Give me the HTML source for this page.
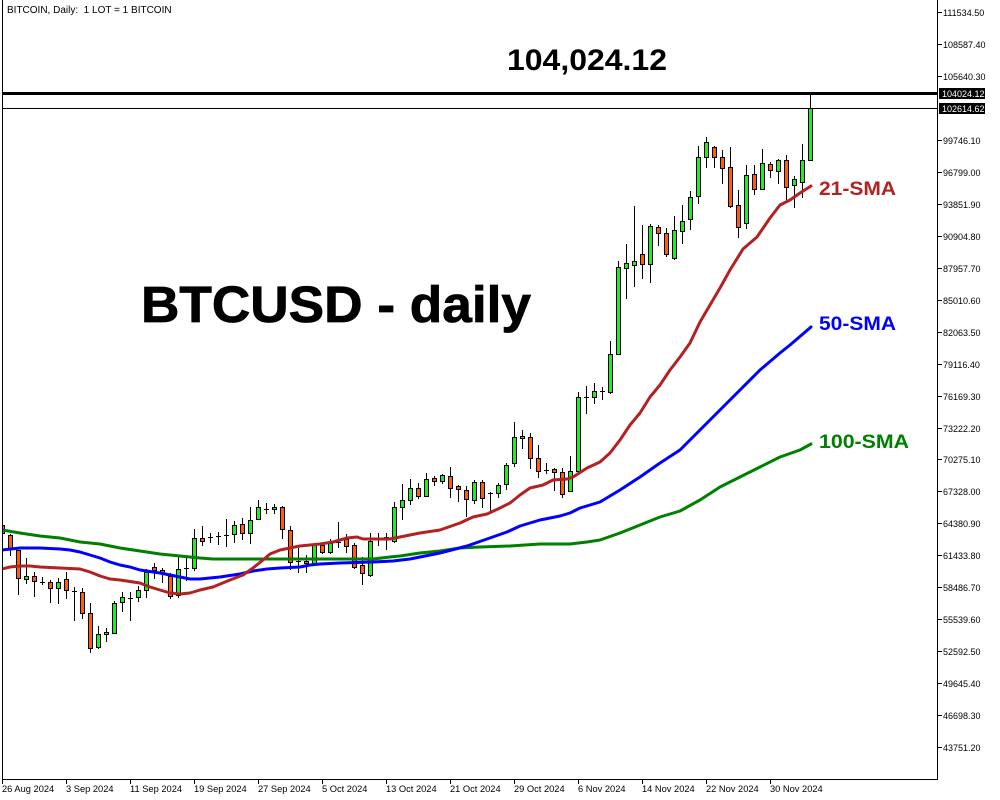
<!DOCTYPE html>
<html><head><meta charset="utf-8"><style>
html,body{margin:0;padding:0;background:#fff;}
svg{display:block;}
text{font-family:"Liberation Sans",Arial,sans-serif;}
</style></head><body>
<svg width="1000" height="800" viewBox="0 0 1000 800" xmlns="http://www.w3.org/2000/svg">
<defs><clipPath id="c"><rect x="3" y="0" width="934" height="779"/></clipPath></defs>
<rect width="1000" height="800" fill="#fff"/>
<g clip-path="url(#c)">
<path stroke="#000" stroke-width="1" shape-rendering="crispEdges" fill="none" d="M2.5 524V535M10.5 534V556M18.5 550V595M26.5 558V584M34.5 572V597M42.5 577V585M50.5 580V603M58.5 578V604M66.5 572V599M74.5 587V621M82.5 588V619M90.5 603V653M98.5 626V649M106.5 628V642M114.5 601V634M122.5 592V612M130.5 592V621M138.5 586V602M146.5 569V598M154.5 563V579M162.5 568V583M170.5 573V599M178.5 557V598M186.5 557V581M194.5 529V571M202.5 526V546M210.5 533V543M218.5 532V545M226.5 519V547M234.5 521V543M242.5 518V540M250.5 507V544M258.5 500V520M266.5 503V514M274.5 504V514M282.5 506V539M290.5 526V570M298.5 548V573M306.5 555V573M314.5 543V564M322.5 544V554M330.5 539V554M338.5 522V548M346.5 534V553M354.5 543V569M362.5 557V585M370.5 533V577M378.5 533V546M386.5 533V550M394.5 502V543M402.5 484V520M410.5 479V505M418.5 483V499M426.5 473V497M434.5 476V486M442.5 474V484M450.5 467V498M458.5 485V502M466.5 486V517M474.5 480V504M482.5 480V508M490.5 492V512M498.5 483V498M506.5 463V490M514.5 422V467M522.5 430V449M530.5 433V469M538.5 445V478M546.5 463V474M554.5 468V491M562.5 468V498M570.5 456V492M578.5 392V473M586.5 386V414M594.5 383V404M602.5 387V400M610.5 341V394M618.5 261V355M626.5 244V299M634.5 206V287M642.5 225V279M650.5 224V283M658.5 225V246M666.5 228V257M674.5 216V260M682.5 205V244M690.5 191V230M698.5 146V204M706.5 137V168M714.5 146V168M722.5 150V184M730.5 147V208M738.5 190V238M746.5 165V229M754.5 165V195M762.5 149V190M770.5 162V178M778.5 159V184M786.5 155V200M794.5 176V208M802.5 144V198M810.5 93V161"/>
<path stroke="#000" stroke-width="1" shape-rendering="crispEdges" fill="none" d="M40 582.5H45M72 591.5H77M128 598.5H133M184 568.5H189M208 537.5H213M216 536.5H221M224 535.5H229M264 509.5H269M296 561.5H301M336 542.5H341M376 538.5H381M384 537.5H389M488 493.5H493M544 470.5H549M584 397.5H589M600 391.5H605"/>
<g fill="#ff5f00" stroke="#000" stroke-width="1" shape-rendering="crispEdges">
<rect x="0.5" y="525.5" width="4" height="8"/>
<rect x="8.5" y="535.5" width="4" height="14"/>
<rect x="16.5" y="550.5" width="4" height="28"/>
<rect x="32.5" y="576.5" width="4" height="5"/>
<rect x="48.5" y="582.5" width="4" height="6"/>
<rect x="64.5" y="579.5" width="4" height="11"/>
<rect x="80.5" y="592.5" width="4" height="21"/>
<rect x="88.5" y="613.5" width="4" height="35"/>
<rect x="152.5" y="567.5" width="4" height="3"/>
<rect x="160.5" y="570.5" width="4" height="2"/>
<rect x="168.5" y="576.5" width="4" height="20"/>
<rect x="200.5" y="538.5" width="4" height="3"/>
<rect x="240.5" y="524.5" width="4" height="9"/>
<rect x="280.5" y="507.5" width="4" height="22"/>
<rect x="288.5" y="530.5" width="4" height="32"/>
<rect x="304.5" y="561.5" width="4" height="2"/>
<rect x="320.5" y="545.5" width="4" height="7"/>
<rect x="344.5" y="539.5" width="4" height="7"/>
<rect x="352.5" y="545.5" width="4" height="22"/>
<rect x="360.5" y="565.5" width="4" height="8"/>
<rect x="416.5" y="488.5" width="4" height="8"/>
<rect x="432.5" y="478.5" width="4" height="3"/>
<rect x="448.5" y="476.5" width="4" height="12"/>
<rect x="456.5" y="486.5" width="4" height="3"/>
<rect x="464.5" y="490.5" width="4" height="9"/>
<rect x="480.5" y="482.5" width="4" height="16"/>
<rect x="528.5" y="437.5" width="4" height="21"/>
<rect x="536.5" y="458.5" width="4" height="13"/>
<rect x="552.5" y="469.5" width="4" height="3"/>
<rect x="560.5" y="472.5" width="4" height="22"/>
<rect x="640.5" y="254.5" width="4" height="10"/>
<rect x="656.5" y="227.5" width="4" height="6"/>
<rect x="664.5" y="233.5" width="4" height="21"/>
<rect x="712.5" y="147.5" width="4" height="10"/>
<rect x="720.5" y="157.5" width="4" height="11"/>
<rect x="728.5" y="167.5" width="4" height="39"/>
<rect x="736.5" y="205.5" width="4" height="22"/>
<rect x="752.5" y="174.5" width="4" height="15"/>
<rect x="768.5" y="164.5" width="4" height="6"/>
<rect x="784.5" y="160.5" width="4" height="27"/>
</g>
<g fill="#1ef01e" stroke="#000" stroke-width="1" shape-rendering="crispEdges">
<rect x="24.5" y="576.5" width="4" height="3"/>
<rect x="56.5" y="582.5" width="4" height="6"/>
<rect x="96.5" y="634.5" width="4" height="13"/>
<rect x="104.5" y="632.5" width="4" height="2"/>
<rect x="112.5" y="603.5" width="4" height="30"/>
<rect x="120.5" y="597.5" width="4" height="5"/>
<rect x="136.5" y="590.5" width="4" height="7"/>
<rect x="144.5" y="572.5" width="4" height="18"/>
<rect x="176.5" y="569.5" width="4" height="26"/>
<rect x="192.5" y="538.5" width="4" height="30"/>
<rect x="232.5" y="525.5" width="4" height="9"/>
<rect x="248.5" y="520.5" width="4" height="13"/>
<rect x="256.5" y="507.5" width="4" height="12"/>
<rect x="272.5" y="507.5" width="4" height="2"/>
<rect x="312.5" y="545.5" width="4" height="18"/>
<rect x="328.5" y="543.5" width="4" height="9"/>
<rect x="368.5" y="541.5" width="4" height="34"/>
<rect x="392.5" y="507.5" width="4" height="34"/>
<rect x="400.5" y="500.5" width="4" height="7"/>
<rect x="408.5" y="488.5" width="4" height="12"/>
<rect x="424.5" y="479.5" width="4" height="17"/>
<rect x="440.5" y="475.5" width="4" height="6"/>
<rect x="472.5" y="482.5" width="4" height="18"/>
<rect x="496.5" y="485.5" width="4" height="8"/>
<rect x="504.5" y="465.5" width="4" height="19"/>
<rect x="512.5" y="437.5" width="4" height="26"/>
<rect x="520.5" y="436.5" width="4" height="2"/>
<rect x="568.5" y="471.5" width="4" height="20"/>
<rect x="576.5" y="397.5" width="4" height="74"/>
<rect x="592.5" y="391.5" width="4" height="6"/>
<rect x="608.5" y="354.5" width="4" height="38"/>
<rect x="616.5" y="267.5" width="4" height="87"/>
<rect x="624.5" y="263.5" width="4" height="5"/>
<rect x="632.5" y="261.5" width="4" height="4"/>
<rect x="648.5" y="226.5" width="4" height="38"/>
<rect x="672.5" y="230.5" width="4" height="28"/>
<rect x="680.5" y="221.5" width="4" height="10"/>
<rect x="688.5" y="197.5" width="4" height="22"/>
<rect x="696.5" y="157.5" width="4" height="39"/>
<rect x="704.5" y="142.5" width="4" height="15"/>
<rect x="744.5" y="175.5" width="4" height="48"/>
<rect x="760.5" y="163.5" width="4" height="26"/>
<rect x="776.5" y="160.5" width="4" height="11"/>
<rect x="792.5" y="179.5" width="4" height="6"/>
<rect x="800.5" y="160.5" width="4" height="22"/>
<rect x="808.5" y="108.5" width="4" height="52"/>
</g>
<g fill="none" stroke-width="3" stroke-linejoin="round" stroke-linecap="round">
<polyline stroke="#008000" points="2,530 20,533 40,536 60,538 80,542 100,544 120,548 140,551 160,554 180,556 200,558 213,559 287,559 373,559 390,557 400,556 420,553 440,551 460,548 480,547 510,546 540,544 570,544 587,542 600,540 620,533 640,525 660,517 680,511 700,500 720,487 740,477 760,467 780,457 800,450 811,444"/>
<polyline stroke="#0000ff" points="2,550 20,548 40,548 60,549 70,550 80,552 90,555 100,558 110,562 120,565 130,567 140,570 160,573 180,577 190,579 200,579 220,577 240,574 253,571 267,569 280,568 300,567 310,565 320,564 340,563 373,562 393,561 410,559 440,553 467,546 487,539 507,532 520,526 540,520 560,516 570,513 580,508 600,502 620,490 640,477 660,463 680,450 700,430 720,410 740,390 760,370 780,353 790,345 811,327"/>
<polyline stroke="#b22222" points="2,569 10,567 20,566 30,566 40,567 60,568 80,569 90,572 100,576 110,579 120,580 140,583 150,587 160,590 170,593 180,594 190,593 200,590 213,587 230,580 243,575 253,568 263,560 270,554 280,550 290,548 300,546 310,545 320,544 333,542 347,538 357,537 363,539 373,539 390,539 400,537 410,535 420,533 440,530 460,523 473,517 487,514 500,508 510,503 520,495 530,488 543,485 553,480 567,479 573,477 587,468 600,462 610,453 620,440 630,425 640,413 650,397 660,385 670,370 680,357 690,343 700,322 710,305 720,288 730,270 743,249 757,237 770,218 780,205 790,200 800,193 811,186"/>
</g>
</g>
<rect x="2" y="92" width="936" height="3" fill="#000"/>
<rect x="2" y="108" width="936" height="1" fill="#000"/>
<path stroke="#000" stroke-width="1" fill="none" shape-rendering="crispEdges" d="M2.5 0V779.5H937.5V0"/>
<path stroke="#000" stroke-width="1" fill="none" shape-rendering="crispEdges" d="M2.5 780V784M66.5 780V784M130.5 780V784M194.5 780V784M258.5 780V784M322.5 780V784M386.5 780V784M450.5 780V784M514.5 780V784M578.5 780V784M642.5 780V784M706.5 780V784M770.5 780V784"/>
<path stroke="#000" stroke-width="1" fill="none" shape-rendering="crispEdges" d="M938 12.5H942M938 44.5H942M938 76.5H942M938 140.5H942M938 172.5H942M938 204.5H942M938 236.5H942M938 268.5H942M938 300.5H942M938 332.5H942M938 364.5H942M938 396.5H942M938 428.5H942M938 459.5H942M938 491.5H942M938 523.5H942M938 555.5H942M938 587.5H942M938 619.5H942M938 651.5H942M938 683.5H942M938 715.5H942M938 747.5H942"/>
<g font-size="9" fill="#000">
<text x="943" y="16">111534.50</text>
<text x="943" y="48">108587.40</text>
<text x="943" y="80">105640.30</text>
<text x="943" y="144">99746.10</text>
<text x="943" y="176">96799.00</text>
<text x="943" y="208">93851.90</text>
<text x="943" y="240">90904.80</text>
<text x="943" y="272">87957.70</text>
<text x="943" y="304">85010.60</text>
<text x="943" y="336">82063.50</text>
<text x="943" y="368">79116.40</text>
<text x="943" y="400">76169.30</text>
<text x="943" y="432">73222.20</text>
<text x="943" y="463">70275.10</text>
<text x="943" y="495">67328.00</text>
<text x="943" y="527">64380.90</text>
<text x="943" y="559">61433.80</text>
<text x="943" y="591">58486.70</text>
<text x="943" y="623">55539.60</text>
<text x="943" y="655">52592.50</text>
<text x="943" y="687">49645.40</text>
<text x="943" y="719">46698.30</text>
<text x="943" y="751">43751.20</text>
</g>
<rect x="939" y="88" width="46" height="11" fill="#000"/>
<rect x="939" y="103" width="46" height="11" fill="#000"/>
<g font-size="9" fill="#fff">
<text x="942" y="97">104024.12</text>
<text x="942" y="112">102614.62</text>
</g>
<g font-size="9.3" fill="#000">
<text x="2" y="792">26 Aug 2024</text>
<text x="66" y="792">3 Sep 2024</text>
<text x="130" y="792">11 Sep 2024</text>
<text x="194" y="792">19 Sep 2024</text>
<text x="258" y="792">27 Sep 2024</text>
<text x="322" y="792">5 Oct 2024</text>
<text x="386" y="792">13 Oct 2024</text>
<text x="450" y="792">21 Oct 2024</text>
<text x="514" y="792">29 Oct 2024</text>
<text x="578" y="792">6 Nov 2024</text>
<text x="642" y="792">14 Nov 2024</text>
<text x="706" y="792">22 Nov 2024</text>
<text x="770" y="792">30 Nov 2024</text>
</g>
<text x="7" y="13" font-size="10" fill="#000">BITCOIN, Daily:&#160; 1 LOT = 1 BITCOIN</text>
<text x="507" y="70" font-size="30" font-weight="bold" fill="#000" textLength="160" lengthAdjust="spacingAndGlyphs">104,024.12</text>
<text x="141" y="322" font-size="51" font-weight="bold" fill="#000" stroke="#000" stroke-width="0.8" textLength="390" lengthAdjust="spacingAndGlyphs">BTCUSD - daily</text>
<text x="819" y="195" font-size="19" font-weight="bold" fill="#b22222" textLength="77" lengthAdjust="spacingAndGlyphs">21-SMA</text>
<text x="819" y="330" font-size="19" font-weight="bold" fill="#0000ff" textLength="77" lengthAdjust="spacingAndGlyphs">50-SMA</text>
<text x="819" y="448" font-size="19" font-weight="bold" fill="#008000" textLength="90" lengthAdjust="spacingAndGlyphs">100-SMA</text>
</svg>
</body></html>
